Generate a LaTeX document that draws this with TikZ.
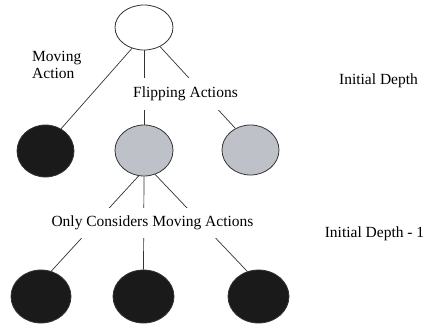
\documentclass[tikz,border=0pt]{standalone}
\usepackage{fontspec}
\setmainfont{Liberation Serif}
\usetikzlibrary{shapes.geometric}
\definecolor{nodegray}{HTML}{BEC2C8}
\definecolor{nodeblack}{HTML}{1A1A1A}
\definecolor{edgecol}{HTML}{333333}
\begin{document}
\begin{tikzpicture}[x=1pt,y=-1pt,
  st/.style={ellipse, draw=edgecol, line width=0.8pt, inner sep=0pt},
  whitest/.style={st, fill=white},
  graystate/.style={st, fill=nodegray},
  blackstate/.style={st, fill=nodeblack},
  edge/.style={draw=edgecol, line width=0.7pt},
  lbl/.style={font=\fontsize{15.5}{17}\selectfont, inner sep=0pt},
  cutlbl/.style={lbl, fill=white, inner xsep=1pt}]
\useasboundingbox (0,0) rectangle (424,324);
\node[whitest, minimum width=58, minimum height=45] (root) at (144,27.5) {};
\node[blackstate, minimum width=57, minimum height=52] (mv) at (45.5,151) {};
\node[graystate, minimum width=58, minimum height=51] (fl1) at (144,150.5) {};
\node[graystate, minimum width=57, minimum height=50] (fl2) at (250.5,150) {};
\node[blackstate, minimum width=60, minimum height=53] (b1) at (41,296.5) {};
\node[blackstate, minimum width=61, minimum height=53] (b2) at (143.5,296.5) {};
\node[blackstate, minimum width=61, minimum height=53] (b3) at (258.5,296.5) {};

\path[edge] (root.240) -- (mv.55);
\path[edge] (root.south) -- (fl1.north);
\path[edge] (root.-50) -- (fl2.125);
\path[edge] (fl1.-102) -- (b1.68);
\path[edge] (fl1.south) -- (b2.north);
\path[edge] (fl1.-65) -- (b3.114);

\node[cutlbl, minimum height=32, inner xsep=1pt] (flab) at (185.5,94) {Flipping Actions};
\node[cutlbl, minimum height=30] (olab) at (152.5,223) {Only Considers Moving Actions};
\node[lbl, align=left, anchor=north west] (mlab) at (32,51) {Moving\\Action};
\node[lbl] (d0) at (378.5,81) {Initial Depth};
\node[lbl] (d1) at (374.5,234) {Initial Depth - 1};
\end{tikzpicture}
\end{document}
